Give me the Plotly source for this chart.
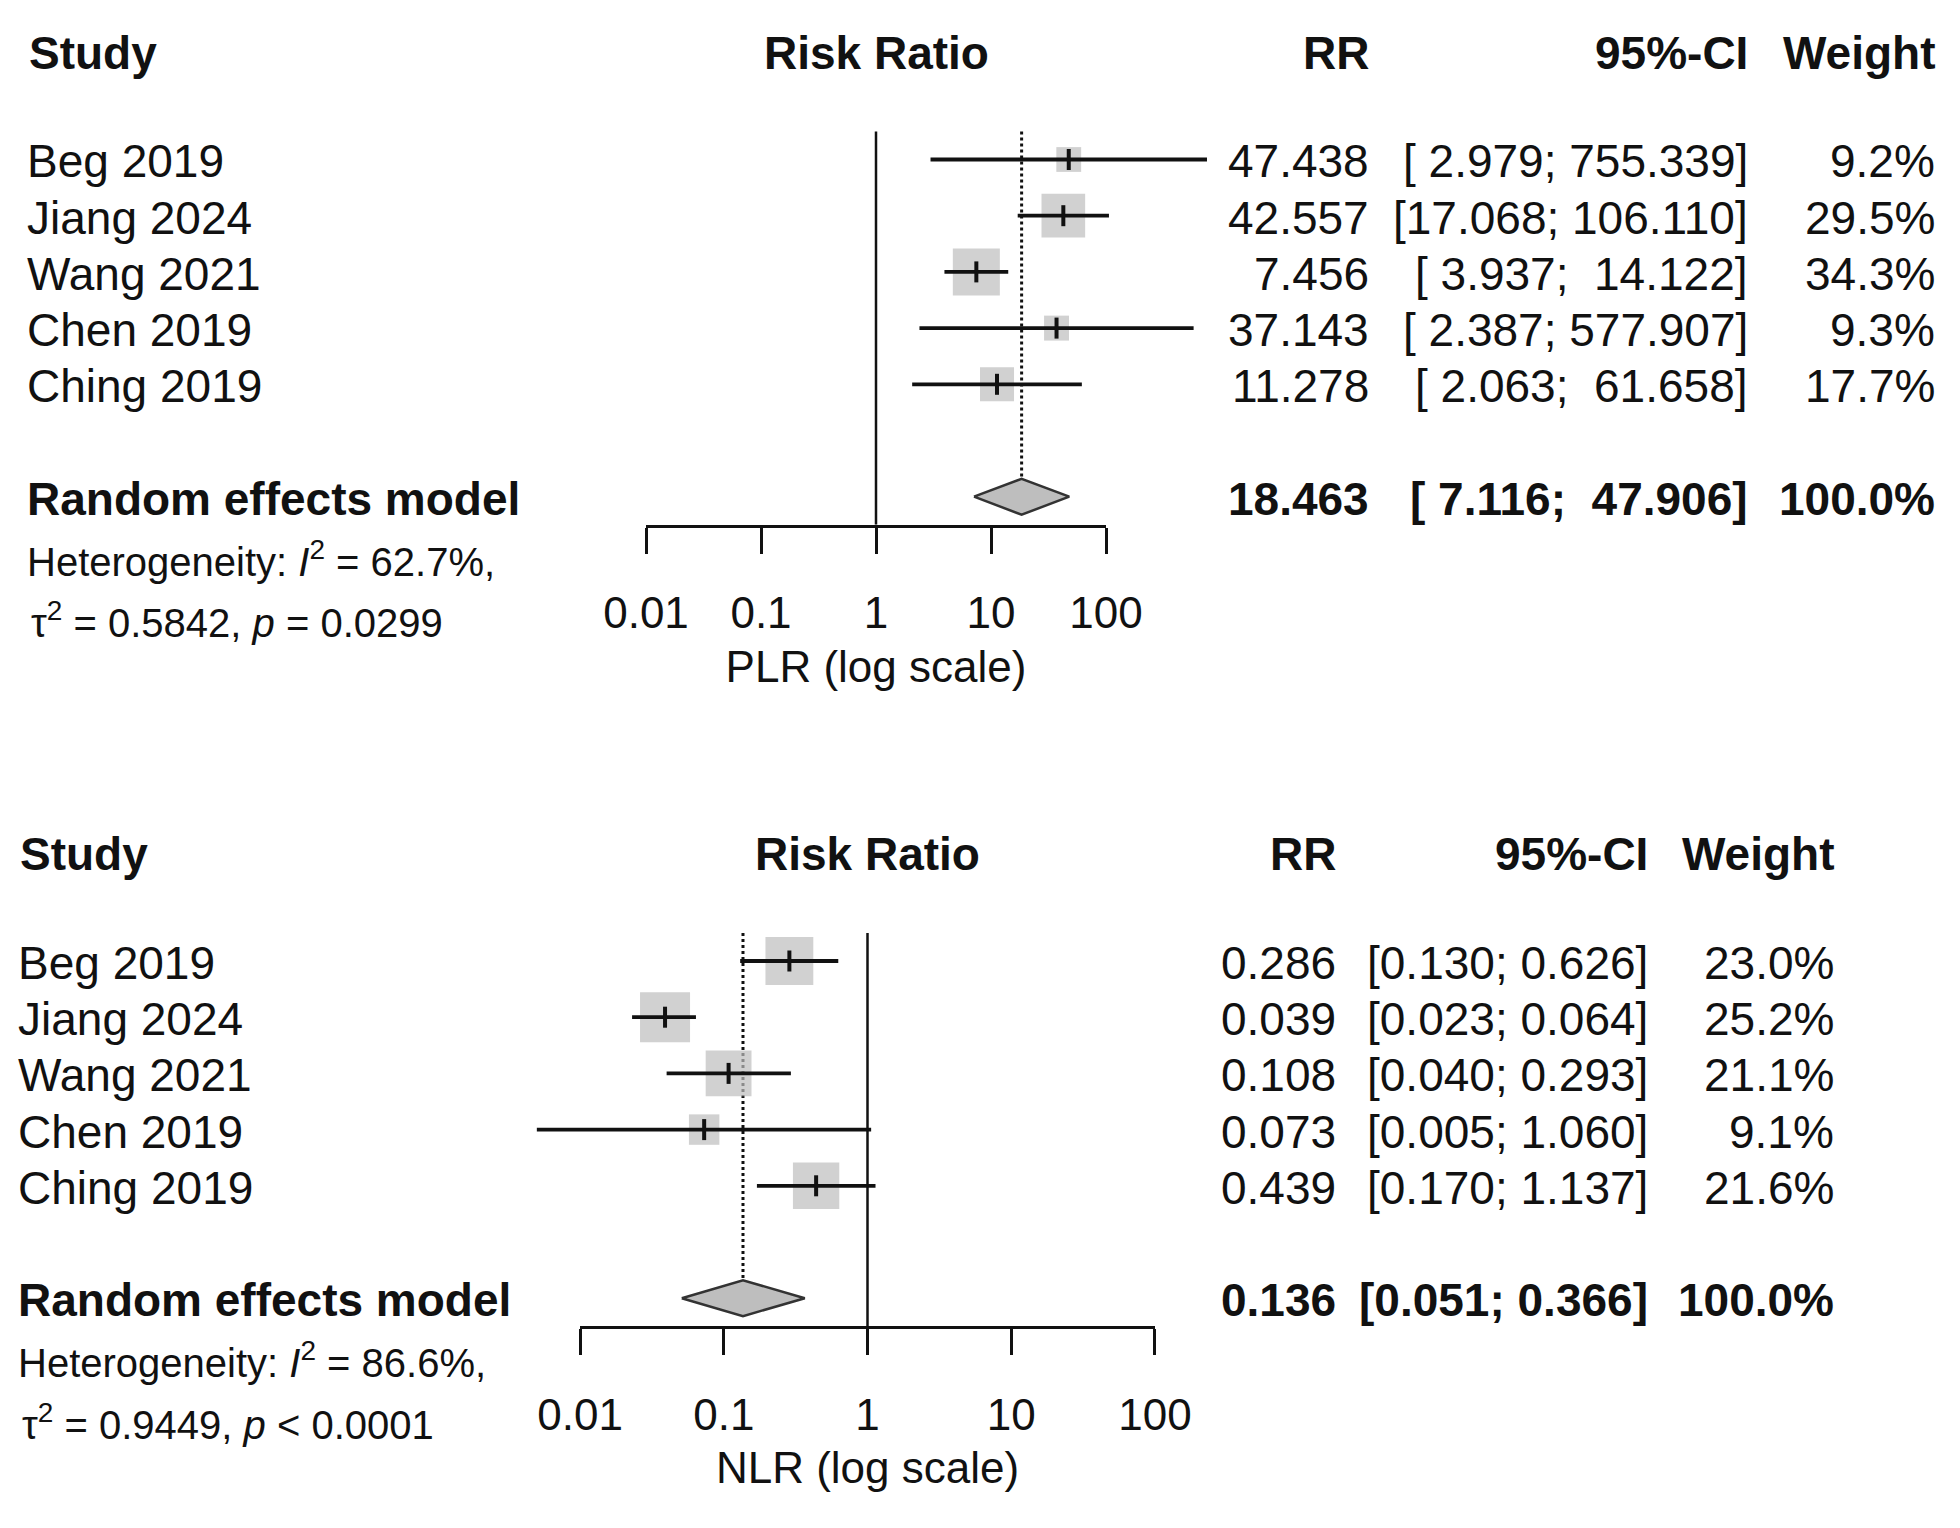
import numpy as np
import plotly.graph_objects as go

# study labels shared by both forest plots
studies = ["Beg 2019", "Jiang 2024", "Wang 2021", "Chen 2019", "Ching 2019"]

# PLR panel
plr_rr = [47.438, 42.557, 7.456, 37.143, 11.278]
plr_lo = [2.979, 17.068, 3.937, 2.387, 2.063]
plr_hi = [755.339, 106.110, 14.122, 577.907, 61.658]
plr_w = [9.2, 29.5, 34.3, 9.3, 17.7]
plr_sum = [18.463, 7.116, 47.906]          # RR, lower, upper
plr_het = ["62.7%", "0.5842", "= 0.0299"]  # I2, tau2, p

# NLR panel
nlr_rr = [0.286, 0.039, 0.108, 0.073, 0.439]
nlr_lo = [0.130, 0.023, 0.040, 0.005, 0.170]
nlr_hi = [0.626, 0.064, 0.293, 1.060, 1.137]
nlr_w = [23.0, 25.2, 21.1, 9.1, 21.6]
nlr_sum = [0.136, 0.051, 0.366]
nlr_het = ["86.6%", "0.9449", "< 0.0001"]

tick_vals = [0.01, 0.1, 1, 10, 100]
tick_text = ["0.01", "0.1", "1", "10", "100"]

W, H = 1960, 1528
ROW = 56.2
FONT = "Liberation Sans, Arial, sans-serif"
INK = "#111111"
SQ = "#bebebe"

fig = go.Figure()
annotations = []


def ci_strings(lo, hi):
    los = ["%.3f" % v for v in lo]
    his = ["%.3f" % v for v in hi]
    wl = max(len(s) for s in los)
    wh = max(len(s) for s in his)
    out = ["[" + a.rjust(wl) + "; " + b.rjust(wh) + "]" for a, b in zip(los, his)]
    return [s.replace(" ", "\u00a0") for s in out]


def panel(n, rr, lo, hi, w, summ, het, xlab, geo):
    disp = "x" if n == 1 else "x2"
    data = "x3" if n == 1 else "x4"
    yname = "y" if n == 1 else "y2"
    x1, dec, y0, top_px = geo["x1"], geo["dec"], geo["y0"], geo["top"]
    c_left, c_rr, c_ci, c_w = geo["cols"]

    def add_text(txt, xpx, row, anchor, size=46, dy=2):
        ypx = y0 + (row - 1) * ROW + dy
        annotations.append(dict(text=txt, x=xpx / W, xref="paper", y=1 - ypx / H,
                                yref="paper", xanchor=anchor, yanchor="middle",
                                showarrow=False,
                                font=dict(family=FONT, size=size, color=INK)))

    k = len(studies)
    rows = np.arange(1, k + 1)
    srow = k + 2
    h = 0.32

    # reference lines (on the visible axis)
    fig.add_trace(go.Scatter(x=[1, 1], y=[0.5, srow + 0.5], mode="lines",
                             line=dict(color=INK, width=2.5),
                             xaxis=disp, yaxis=yname, hoverinfo="skip"))
    fig.add_trace(go.Scatter(x=[summ[0], summ[0]], y=[0.5, srow - h], mode="lines",
                             line=dict(color=INK, width=3, dash="dot"),
                             xaxis=disp, yaxis=yname, hoverinfo="skip"))

    # weight squares
    wmax = max(w)
    sizes = [geo["smax"] * np.sqrt(v / wmax) + 1 for v in w]
    fig.add_trace(go.Scatter(x=rr, y=rows, mode="markers",
                             marker=dict(symbol="square", size=sizes, color=SQ,
                                         line=dict(width=0)),
                             xaxis=data, yaxis=yname, hoverinfo="skip"))
    # CI lines
    cx, cy = [], []
    for a, b, r in zip(lo, hi, rows):
        cx += [a, b, None]
        cy += [r, r, None]
    fig.add_trace(go.Scatter(x=cx, y=cy, mode="lines",
                             line=dict(color=INK, width=3.8),
                             xaxis=data, yaxis=yname, hoverinfo="skip"))
    fig.add_trace(go.Scatter(x=rr, y=rows, mode="markers",
                             marker=dict(symbol="line-ns", size=15,
                                         line=dict(color=INK, width=4)),
                             xaxis=data, yaxis=yname, hoverinfo="skip"))
    # summary diamond
    fig.add_trace(go.Scatter(x=[summ[1], summ[0], summ[2], summ[0], summ[1]],
                             y=[srow, srow - h, srow, srow + h, srow],
                             mode="lines", fill="toself", fillcolor=SQ,
                             line=dict(color="#333333", width=2.5),
                             xaxis=data, yaxis=yname, hoverinfo="skip"))

    # axes
    axis_px = y0 + (srow + 0.5 - 1) * ROW
    fig.layout["yaxis" + ("" if n == 1 else "2")] = dict(
        domain=[1 - axis_px / H, 1 - top_px / H],
        range=[srow + 0.5, 1 - (y0 - top_px) / ROW], visible=False, fixedrange=True)
    lo_log = -x1 / dec
    hi_log = (W - x1) / dec
    fig.layout["xaxis" + ("3" if n == 1 else "4")] = dict(
        domain=[0, 1], type="log", range=[lo_log, hi_log], anchor=yname,
        visible=False, fixedrange=True)
    fig.layout["xaxis" + ("" if n == 1 else "2")] = dict(
        domain=[(x1 - 2 * dec) / W, (x1 + 2 * dec) / W], type="log", range=[-2, 2],
        anchor=yname, showline=True, linecolor=INK, linewidth=2.5,
        ticks="outside", ticklen=26, tickwidth=2.5, tickcolor=INK,
        tickvals=tick_vals, ticktext=tick_text, ticklabelstandoff=22,
        tickfont=dict(family=FONT, size=44, color=INK), showgrid=False,
        zeroline=False, fixedrange=True, automargin=False,
        title=dict(text=xlab, standoff=15, font=dict(family=FONT, size=44, color=INK)))

    # header
    hr = -0.9
    add_text("<b>Study</b>", c_left, hr, "left", dy=0)
    add_text("<b>Risk Ratio</b>", x1, hr, "center", dy=0)
    add_text("<b>RR</b>", c_rr, hr, "right", dy=0)
    add_text("<b>95%-CI</b>", c_ci, hr, "right", dy=0)
    add_text("<b>Weight</b>", c_w, hr, "right", dy=0)

    cis = ci_strings(list(lo) + [summ[1]], list(hi) + [summ[2]])
    for i, r in enumerate(rows):
        add_text(studies[i], c_left - 2, r, "left")
        add_text("%.3f" % rr[i], c_rr, r, "right")
        add_text(cis[i], c_ci, r, "right")
        add_text("%.1f%%" % w[i], c_w, r, "right")
    add_text("<b>Random effects model</b>", c_left - 2, srow, "left")
    add_text("<b>%.3f</b>" % summ[0], c_rr, srow, "right")
    add_text("<b>" + cis[-1] + "</b>", c_ci, srow, "right")
    add_text("<b>100.0%</b>", c_w, srow, "right")

    add_text("Heterogeneity: <i>I</i><sup>2</sup> = " + het[0] + ",", c_left - 2,
             srow + 1.1, "left", size=40, dy=0)
    add_text("\u03c4<sup>2</sup> = " + het[1] + ", <i>p</i> " + het[2], c_left + 2,
             srow + 2.2, "left", size=40, dy=0)


panel(1, plr_rr, plr_lo, plr_hi, plr_w, plr_sum, plr_het, "PLR (log scale)",
      dict(x1=876, dec=115, y0=159.5, top=0, cols=(27, 1371, 1750, 1937), smax=46))
panel(2, nlr_rr, nlr_lo, nlr_hi, nlr_w, nlr_sum, nlr_het, "NLR (log scale)",
      dict(x1=867.5, dec=143.7, y0=961, top=760, cols=(18, 1338, 1650, 1836), smax=49))

fig.update_layout(width=W, height=H,
                  margin=dict(l=0, r=0, t=0, b=0, pad=0, autoexpand=False),
                  paper_bgcolor="white", plot_bgcolor="rgba(0,0,0,0)",
                  showlegend=False, annotations=annotations)

# drop the browser's default page margin so the figure sits at the window corner
fig.write_html("out.html", config={"displayModeBar": False},
               post_script="document.body.style.margin='0';")
